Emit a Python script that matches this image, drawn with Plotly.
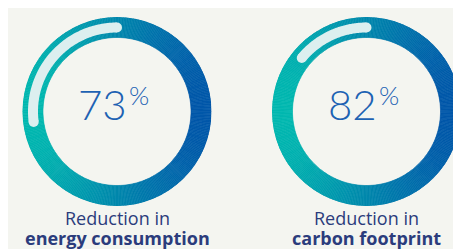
import numpy as np
import plotly.graph_objects as go

# ---- data ----
labels_top = ["Reduction in", "Reduction in"]
labels_bold = ["energy consumption", "carbon footprint"]
values = [73, 82]                # percentage shown in the centre
highlight_pct = [27, 14]         # length of light arc on the ring (percent of circle)

W, H = 461, 249
centers_px = [(109, 103.5), (358.5, 103.5)]
R_OUT = 94.5
R_IN = 74
R_HL = 84

TEAL = np.array([0, 184, 176])
BLUE = np.array([0, 88, 170])

def grad(theta_deg):
    t = (1 - np.cos(np.radians(theta_deg))) / 2  # 0 at right, 1 at left
    c = BLUE[None, :] + (TEAL - BLUE)[None, :] * t[:, None]
    return ["rgb(%d,%d,%d)" % tuple(v) for v in c.round().astype(int)]

fig = go.Figure()
n = 360
thetas = np.arange(n) + 0.5
cols = grad(thetas)

def py(ypix):
    return (H - ypix) / H

for i, (cx, cy) in enumerate(centers_px):
    pid = "polar" if i == 0 else "polar%d" % (i + 1)
    sub = pid
    fig.add_trace(go.Barpolar(
        r=[R_OUT - R_IN] * n, base=[R_IN] * n, theta=thetas, width=[1.02] * n,
        marker=dict(color=cols, line=dict(color=cols, width=0.6)),
        subplot=sub, hoverinfo="skip", showlegend=False))
    span = highlight_pct[i] * 3.6
    th = np.linspace(90, 90 + span, 80)
    fig.add_trace(go.Scatterpolar(
        r=[R_HL] * len(th), theta=th, mode="lines",
        line=dict(color="#dcefef", width=10),
        subplot=sub, hoverinfo="skip", showlegend=False))
    fig.add_trace(go.Scatterpolar(
        r=[R_HL, R_HL], theta=[90, 90 + span], mode="markers",
        marker=dict(color="#dcefef", size=10, line=dict(width=0)),
        subplot=sub, hoverinfo="skip", showlegend=False))
    dom = dict(x=[(cx - R_OUT) / W, (cx + R_OUT) / W],
               y=[(H - cy - R_OUT) / H, (H - cy + R_OUT) / H])
    fig.update_layout(**{pid: dict(
        domain=dom, bgcolor="rgba(0,0,0,0)",
        radialaxis=dict(visible=False, range=[0, R_OUT]),
        angularaxis=dict(visible=False, rotation=0, direction="counterclockwise"),
        bargap=0)})
    # big number
    fig.add_annotation(
        x=(cx + 12) / W, y=py(96), xref="paper", yref="paper",
        text="%d" % values[i], showarrow=False,
        font=dict(family="Lato", size=42, color="#1d62b3", weight=300),
        xanchor="right", yanchor="middle")
    fig.add_annotation(
        x=(cx + 10) / W, y=py(87), xref="paper", yref="paper",
        text="%", showarrow=False,
        font=dict(family="Lato", size=26, color="#1d62b3", weight=300),
        xanchor="left", yanchor="middle")
    fig.add_annotation(
        x=cx / W, y=py(210), xref="paper", yref="paper",
        text=labels_top[i], showarrow=False,
        font=dict(family="Open Sans", size=18, color="#2b3c7c"),
        xanchor="center", yanchor="middle")
    fig.add_annotation(
        x=cx / W, y=py(230), xref="paper", yref="paper",
        text="<b>%s</b>" % labels_bold[i], showarrow=False,
        font=dict(family="Open Sans", size=18, color="#2b3c7c"),
        xanchor="center", yanchor="middle")

fig.update_layout(
    width=W, height=H, margin=dict(l=0, r=0, t=0, b=0),
    paper_bgcolor="#f4f5f0", plot_bgcolor="#f4f5f0")

fig.write_html("out.html", config={"displayModeBar": False})
